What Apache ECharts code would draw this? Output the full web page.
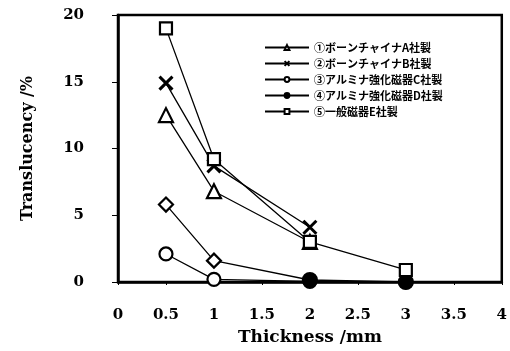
<!DOCTYPE html>
<html>
<head>
<meta charset="utf-8">
<script src="https://cdn.jsdelivr.net/npm/echarts@6/dist/echarts.min.js"></script>
<style>
  html, body { margin: 0; padding: 0; background: #fff; }
  #chart { width: 510px; height: 351px; }
</style>
</head>
<body>
<div id="chart"></div>
<script>
// thickness (mm) and translucency (%)
const thickness = [0.5, 1, 2, 3]
const seriesNames = [
  '①ボーンチャイナA社製',
  '②ボーンチャイナB社製',
  '③アルミナ強化磁器C社製',
  '④アルミナ強化磁器D社製',
  '⑤一般磁器E社製'
]
const valuesA = [12.5, 6.8, 3.0]
const valuesB = [14.9, 8.7, 4.1]
const valuesC = [2.1, 0.2, 0.05, 0]
const valuesD = [5.8, 1.6, 0.15, 0]
const valuesE = [19.0, 9.2, 3.0, 0.9]
const yTicks = [0, 5, 10, 15, 20]

const serif = '"DejaVu Serif", "Liberation Serif", serif'
const cjk = '"Noto Sans CJK JP", sans-serif'
const crossPath = 'path://M0,0L10,10M10,0L0,10'

const pairs = (vals) => vals.map((v, i) => [thickness[i], v])

const chart = echarts.init(document.getElementById('chart'))

const base = {
  type: 'line',
  lineStyle: { color: '#000', width: 1.3 },
  itemStyle: { color: '#fff', borderColor: '#000', borderWidth: 2.2 },
  symbolSize: 12,
  showAllSymbol: true,
  animation: false
}

// D series: open diamonds at first points, filled black dots at the zero points
const dData = pairs(valuesD).map((p, i) =>
  i < 2
    ? { value: p, symbol: 'diamond', symbolSize: 14 }
    : { value: p, symbolSize: 14, itemStyle: { color: '#000' } }
)

chart.setOption({
  animation: false,
  grid: {
    left: 118, right: 5, top: 15, bottom: 59,
    show: true, borderColor: '#000', borderWidth: 2.5
  },
  legend: {
    orient: 'vertical',
    left: 259, top: 37,
    itemWidth: 44, itemHeight: 6, itemGap: 5,
    textStyle: { fontFamily: cjk, fontSize: 11, fontWeight: 'bold', color: '#000' },
    data: [
      { name: seriesNames[0] },
      { name: seriesNames[1] },
      { name: seriesNames[2] },
      { name: seriesNames[3], itemStyle: { color: '#000' } },
      { name: seriesNames[4] }
    ]
  },
  xAxis: {
    type: 'value', min: 0, max: 4, interval: 0.5,
    name: 'Thickness /mm', nameLocation: 'middle', nameGap: 47,
    nameTextStyle: { fontFamily: serif, fontSize: 17, fontWeight: 'bold', color: '#000' },
    axisLine: { lineStyle: { color: '#000', width: 2.5 } },
    axisTick: { show: true, inside: false, length: 3, lineStyle: { color: '#000' } },
    axisLabel: { fontFamily: serif, fontSize: 15, fontWeight: 'bold', color: '#000', margin: 26 },
    splitLine: { show: false }
  },
  yAxis: {
    type: 'value', min: 0, max: 20, interval: 5,
    name: 'Translucency /%', nameLocation: 'middle', nameGap: 82, nameRotate: 90,
    nameTextStyle: { fontFamily: serif, fontSize: 16, fontWeight: 'bold', color: '#000' },
    axisLine: { lineStyle: { color: '#000', width: 2.5 } },
    axisTick: { show: true, length: 6, lineStyle: { color: '#000' } },
    axisLabel: {
      fontFamily: serif, fontSize: 15, fontWeight: 'bold', color: '#000', margin: 34,
      formatter: (v) => (yTicks.includes(v) ? String(v) : '')
    },
    splitLine: { show: false }
  },
  series: [
    { ...base, name: seriesNames[0], symbol: 'triangle', symbolSize: 14, data: pairs(valuesA) },
    {
      ...base, name: seriesNames[1], symbol: crossPath, symbolSize: 13,
      itemStyle: { color: '#000', borderColor: '#000', borderWidth: 3 }, data: pairs(valuesB)
    },
    { ...base, name: seriesNames[2], symbol: 'circle', symbolSize: 13, data: pairs(valuesC) },
    { ...base, name: seriesNames[3], symbol: 'circle', symbolSize: 14, data: dData },
    { ...base, name: seriesNames[4], symbol: 'rect', symbolSize: 12, data: pairs(valuesE) }
  ]
})
</script>
</body>
</html>
